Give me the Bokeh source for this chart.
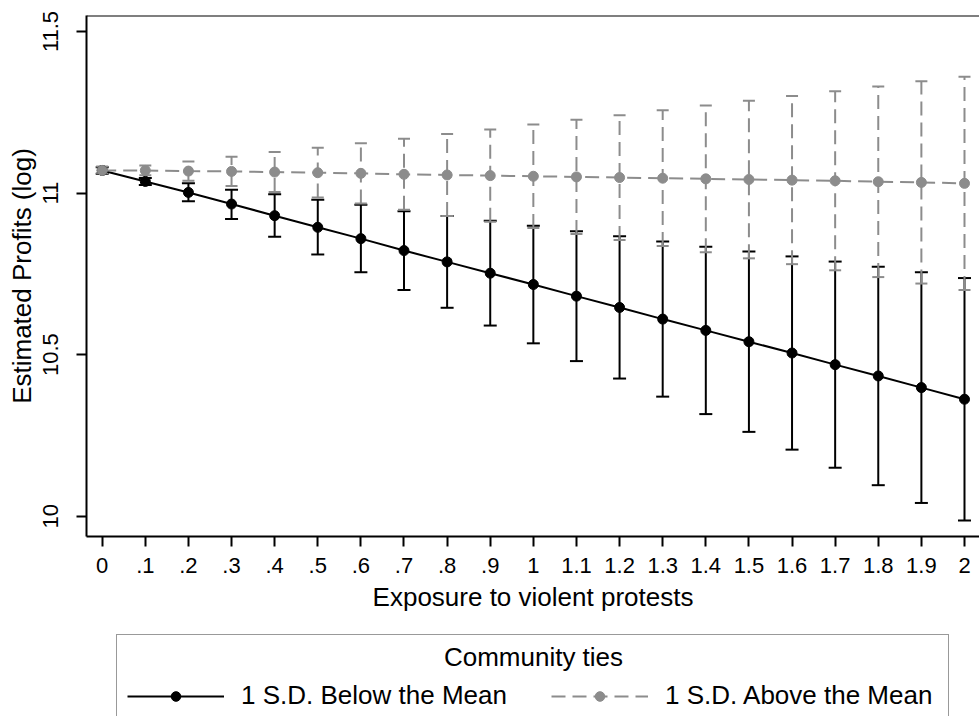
from bokeh.plotting import figure
from bokeh.layouts import column
from bokeh.models import (Range1d, FixedTicker, Whisker, TeeHead, ColumnDataSource,
                          Legend, LegendItem, Label, Span)
from bokeh.embed import file_html
from bokeh.resources import INLINE

# ---------------- data ----------------
x = [0.0, 0.1, 0.2, 0.3, 0.4, 0.5, 0.6, 0.7, 0.8, 0.9, 1.0,
     1.1, 1.2, 1.3, 1.4, 1.5, 1.6, 1.7, 1.8, 1.9, 2.0]
x_labels = ["0", ".1", ".2", ".3", ".4", ".5", ".6", ".7", ".8", ".9", "1",
            "1.1", "1.2", "1.3", "1.4", "1.5", "1.6", "1.7", "1.8", "1.9", "2"]
y_ticks = [10.0, 10.5, 11.0, 11.5]
y_labels = ["10", "10.5", "11", "11.5"]

# 1 S.D. below the mean (black)
below_est = [11.070, 11.036, 11.002, 10.966, 10.930, 10.894, 10.859, 10.822, 10.787, 10.752, 10.717,
             10.681, 10.646, 10.610, 10.575, 10.540, 10.505, 10.469, 10.434, 10.398, 10.362]
below_lo = [11.060, 11.025, 10.975, 10.920, 10.865, 10.810, 10.755, 10.700, 10.645, 10.590, 10.535,
            10.480, 10.426, 10.370, 10.316, 10.261, 10.206, 10.150, 10.096, 10.041, 9.987]
below_hi = [11.080, 11.047, 11.030, 11.010, 10.996, 10.979, 10.964, 10.944, 10.929, 10.914, 10.899,
            10.882, 10.866, 10.850, 10.834, 10.819, 10.804, 10.788, 10.772, 10.755, 10.737]

# 1 S.D. above the mean (gray)
above_est = [11.070, 11.070, 11.068, 11.067, 11.065, 11.063, 11.061, 11.058, 11.056, 11.054, 11.052,
             11.050, 11.048, 11.046, 11.044, 11.042, 11.040, 11.038, 11.035, 11.033, 11.030]
above_lo = [11.062, 11.055, 11.038, 11.022, 11.003, 10.986, 10.968, 10.948, 10.929, 10.911, 10.892,
            10.873, 10.855, 10.836, 10.817, 10.798, 10.780, 10.761, 10.740, 10.720, 10.700]
above_hi = [11.082, 11.085, 11.098, 11.112, 11.127, 11.140, 11.154, 11.168, 11.183, 11.197, 11.212,
            11.227, 11.241, 11.256, 11.271, 11.286, 11.300, 11.315, 11.330, 11.346, 11.360]

legend_title = "Community ties"
label_below = "1 S.D. Below the Mean"
label_above = "1 S.D. Above the Mean"

# ---------------- style ----------------
FONT = "Liberation Sans"
GRAY = "#8c8c8c"
DASH = "14 7"
LEFT = 86

p = figure(width=979, height=634, output_backend="svg", toolbar_location=None,
           x_range=Range1d(-0.0364, 2.0348), y_range=Range1d(9.9372, 11.5495),
           min_border_left=LEFT, min_border_right=0, min_border_top=15, min_border_bottom=98)
p.outline_line_color = None
p.background_fill_color = "white"
p.border_fill_color = "white"
p.grid.visible = False

for ax in (p.xaxis[0], p.yaxis[0]):
    ax.axis_line_color = "black"
    ax.axis_line_width = 2
    ax.major_tick_line_color = "black"
    ax.major_tick_line_width = 2
    ax.major_tick_out = 10
    ax.major_tick_in = 0
    ax.minor_tick_line_color = None
    ax.major_label_text_font = FONT
    ax.major_label_text_font_size = "22px"
    ax.major_label_text_color = "black"
    ax.axis_label_text_font = FONT
    ax.axis_label_text_font_size = "26px"
    ax.axis_label_text_font_style = "normal"
    ax.axis_label_text_color = "black"

p.xaxis.ticker = FixedTicker(ticks=x)
p.xaxis.major_label_overrides = dict(zip(x, x_labels))
p.xaxis.major_label_standoff = 11
p.xaxis.axis_label = "Exposure to violent protests"
p.xaxis.axis_label_standoff = 6

p.yaxis.ticker = FixedTicker(ticks=y_ticks)
p.yaxis.major_label_overrides = dict(zip(y_ticks, y_labels))
p.yaxis.major_label_orientation = "vertical"
p.yaxis.major_label_standoff = 18
p.yaxis.axis_label = "Estimated Profits (log)"
p.yaxis.axis_label_standoff = 4

# top frame line
p.add_layout(Span(location=p.y_range.end, dimension="width", line_color="black", line_width=2))

src_b = ColumnDataSource(dict(x=x, est=below_est, lo=below_lo, hi=below_hi))
src_a = ColumnDataSource(dict(x=x, est=above_est, lo=above_lo, hi=above_hi))

w_b = Whisker(source=src_b, base="x", upper="hi", lower="lo",
              line_color="black", line_width=2, level="underlay",
              upper_head=TeeHead(size=13, line_color="black", line_width=2),
              lower_head=TeeHead(size=13, line_color="black", line_width=2))
w_a = Whisker(source=src_a, base="x", upper="hi", lower="lo",
              line_color=GRAY, line_width=2, line_dash=DASH, level="underlay",
              upper_head=TeeHead(size=12, line_color=GRAY, line_width=2),
              lower_head=TeeHead(size=12, line_color=GRAY, line_width=2))
p.add_layout(w_b)
p.add_layout(w_a)

p.line("x", "est", source=src_b, line_color="black", line_width=2)
p.scatter("x", "est", source=src_b, size=10, fill_color="black", line_color="black")
p.line("x", "est", source=src_a, line_color=GRAY, line_width=2, line_dash=DASH)
p.scatter("x", "est", source=src_a, size=10, fill_color=GRAY, line_color=GRAY)

# ---------------- legend panel (second canvas below the chart) ----------------
p2 = figure(width=979, height=82, output_backend="svg", toolbar_location=None,
            x_range=Range1d(0, 1), y_range=Range1d(0, 1),
            x_axis_location=None, y_axis_location=None,
            min_border_left=LEFT, min_border_right=0, min_border_top=0, min_border_bottom=0)
p2.outline_line_color = None
p2.grid.visible = False
p2.background_fill_color = "white"
p2.border_fill_color = "white"

# legend proxies: same series, outside this panel's ranges so nothing is drawn
lg_lb = p2.line("x", "est", source=src_b, line_color="black", line_width=2)
lg_mb = p2.scatter("x", "est", source=src_b, size=10, fill_color="black", line_color="black")
lg_la = p2.line("x", "est", source=src_a, line_color=GRAY, line_width=2, line_dash=DASH)
lg_ma = p2.scatter("x", "est", source=src_a, size=10, fill_color=GRAY, line_color=GRAY)

legend = Legend(items=[LegendItem(label=label_below, renderers=[lg_lb, lg_mb]),
                       LegendItem(label=label_above, renderers=[lg_la, lg_ma])],
                location=(30, -6), orientation="horizontal",
                title=" ", title_text_font=FONT, title_text_font_size="26px", title_standoff=4,
                padding=10, spacing=37, margin=0,
                label_width=273, label_standoff=17, label_height=24,
                glyph_width=97, glyph_height=24,
                label_text_font=FONT, label_text_font_size="26px", label_text_color="black",
                border_line_color="#333333", border_line_width=1.5,
                background_fill_alpha=0.0)
p2.add_layout(legend)

p2.add_layout(Label(x=447, y=60, x_units="screen", y_units="screen", text=legend_title,
                    text_align="center", text_baseline="middle", text_font=FONT,
                    text_font_size="26px", text_color="black"))

layout = column(p, p2, spacing=0)
open("out.html", "w").write(file_html(layout, INLINE))
